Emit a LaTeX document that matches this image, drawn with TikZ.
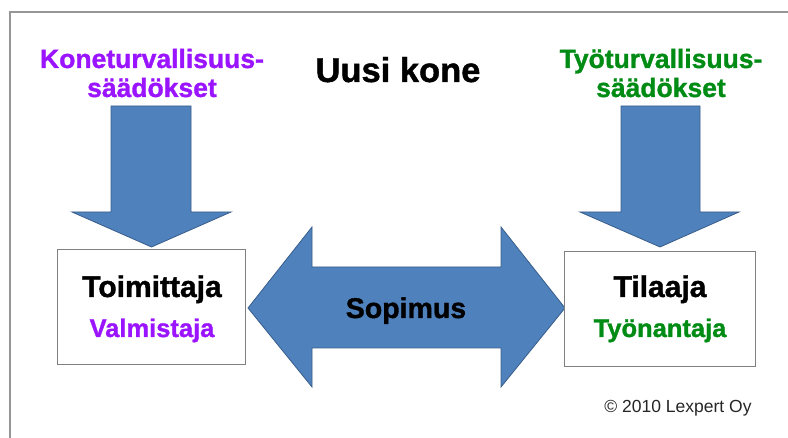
\documentclass[tikz,border=0pt]{standalone}
\usepackage{fontspec}
\setmainfont{Liberation Sans}[BoldFeatures={FakeBold=1.2}]
\definecolor{lpurple}{RGB}{155,20,255}
\definecolor{lgreen}{RGB}{0,140,20}
\definecolor{arrowblue}{RGB}{79,129,189}
\definecolor{arrowedge}{RGB}{56,93,138}
\definecolor{framegray}{RGB}{150,150,150}
\definecolor{boxgray}{RGB}{128,128,128}
\begin{document}
\begin{tikzpicture}[x=1pt,y=-1pt,
  blockarrow/.style={fill=arrowblue,draw=arrowedge,line width=0.8pt,line join=miter},
  partybox/.style={draw=boxgray,line width=1.2pt,fill=white},
  lbl/.style={anchor=base,inner sep=0pt,font=\bfseries},
]
\useasboundingbox (0,0) rectangle (788,438);
% frame (only left and top visible)
\draw[framegray,line width=1.3pt] (10,438) -- (10,12) -- (788,12);

% down arrows
\draw[blockarrow] (111,106) -- (191,106) -- (191,212) -- (231,212) -- (151.5,247) -- (72,212) -- (111,212) -- cycle;
\draw[blockarrow] (621,106) -- (700,106) -- (700,212) -- (739,212) -- (660,247) -- (580,212) -- (621,212) -- cycle;

% double arrow
\draw[blockarrow] (248,308) -- (312,227) -- (312,267) -- (501,267) -- (501,227) -- (565,308) -- (501,387) -- (501,348) -- (312,348) -- (312,387) -- cycle;

% boxes
\node[partybox,minimum width=188pt,minimum height=115pt,anchor=north west] (toim) at (57,249) {};
\node[partybox,minimum width=191pt,minimum height=115pt,anchor=north west] (tila) at (564,251) {};

% texts
\node[lbl,lpurple,font=\bfseries\fontsize{26.5}{29}\selectfont] (kone1) at (152,68) {Koneturvallisuus-};
\node[lbl,lpurple,font=\bfseries\fontsize{26.5}{29}\selectfont] (kone2) at (152,97) {säädökset};
\node[lbl,lgreen,font=\bfseries\fontsize{26.5}{29}\selectfont] (tyo1) at (661,68) {Työturvallisuus-};
\node[lbl,lgreen,font=\bfseries\fontsize{26.5}{29}\selectfont] (tyo2) at (661,97) {säädökset};
\node[lbl,font=\bfseries\fontsize{34.5}{38}\selectfont] (uusi) at (398,82) {Uusi kone};
\node[lbl,font=\bfseries\fontsize{30}{33}\selectfont] (toimt) at (152,297) {Toimittaja};
\node[lbl,lpurple,font=\bfseries\fontsize{25.5}{29}\selectfont] (valm) at (152,337) {Valmistaja};
\node[lbl,font=\bfseries\fontsize{30}{33}\selectfont] (tilat) at (660,297) {Tilaaja};
\node[lbl,lgreen,font=\bfseries\fontsize{25.5}{29}\selectfont] (tyon) at (660,337) {Työnantaja};
\node[lbl,font=\bfseries\fontsize{28.5}{32}\selectfont] (sop) at (406,318) {Sopimus};
\node[anchor=base,inner sep=0pt,font=\fontsize{17.5}{20}\selectfont,text=black!85] (copy) at (678,413) {© 2010 Lexpert Oy};
\end{tikzpicture}
\end{document}
